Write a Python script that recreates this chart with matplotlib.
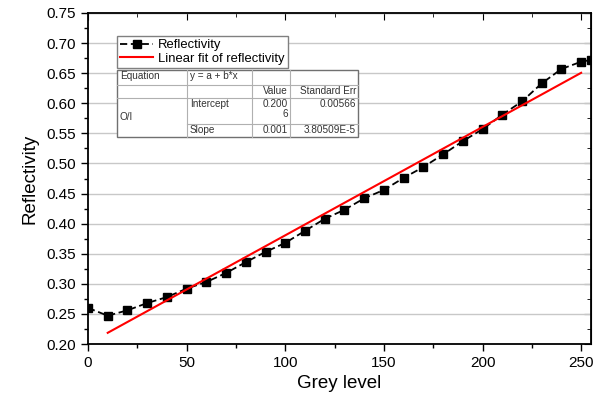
import matplotlib
matplotlib.use('Agg')
import matplotlib.pyplot as plt
from matplotlib.lines import Line2D
from matplotlib.patches import Rectangle
from matplotlib.ticker import MultipleLocator, FormatStrFormatter

plt.rcParams['font.family'] = ['Liberation Sans', 'DejaVu Sans']

# data
grey = [0, 10, 20, 30, 40, 50, 60, 70, 80, 90, 100, 110, 120, 130, 140,
        150, 160, 170, 180, 190, 200, 210, 220, 230, 240, 250, 255]
refl = [0.260, 0.247, 0.256, 0.268, 0.278, 0.292, 0.303, 0.318, 0.336, 0.353,
        0.368, 0.388, 0.408, 0.423, 0.442, 0.456, 0.476, 0.494, 0.515, 0.537,
        0.557, 0.581, 0.603, 0.633, 0.657, 0.669, 0.672]

fit_intercept = 0.2006
fit_slope = 0.0018
fit_x = [10, 250]

table_rows = [
    ['Equation', 'y = a + b*x', '', ''],
    ['', '', 'Value', 'Standard Err'],
    ['O/I', 'Intercept', '0.200\n6', '0.00566'],
    ['', 'Slope', '0.001', '3.80509E-5'],
]

W, H = 613, 401
fig = plt.figure(figsize=(W / 100, H / 100), dpi=100)
ax = fig.add_axes([88 / W, 1 - 344 / H, (591 - 88) / W, (344 - 13) / H])

ax.plot(grey, refl, color='black', ls=(0, (4, 2)), lw=1.3, marker='s',
        markersize=5.8, label='Reflectivity', zorder=3)
fit_y = [fit_intercept + fit_slope * x for x in fit_x]
ax.plot(fit_x, fit_y, color='red', lw=1.5, label='Linear fit of reflectivity',
        zorder=4)

ax.set_xlim(0, 255)
ax.set_ylim(0.20, 0.75)
ax.xaxis.set_major_locator(MultipleLocator(50))
ax.xaxis.set_minor_locator(MultipleLocator(25))
ax.yaxis.set_major_locator(MultipleLocator(0.05))
ax.yaxis.set_minor_locator(MultipleLocator(0.025))
ax.yaxis.set_major_formatter(FormatStrFormatter('%.2f'))
ax.grid(axis='y', color='#c8c8c8', lw=1)
ax.set_axisbelow(True)
ax.tick_params(which='both', direction='out', labelsize=11, width=1)
ax.tick_params(which='major', length=5)
ax.tick_params(which='minor', length=3)
for s in ax.spines.values():
    s.set_linewidth(1.3)

# mirrored ticks pointing inwards on top and right
top = ax.secondary_xaxis('top')
top.xaxis.set_major_locator(MultipleLocator(50))
top.xaxis.set_minor_locator(MultipleLocator(25))
top.tick_params(which='both', direction='in', labeltop=False)
top.tick_params(which='major', length=5)
top.tick_params(which='minor', length=3)
right = ax.secondary_yaxis('right')
right.yaxis.set_major_locator(MultipleLocator(0.05))
right.yaxis.set_minor_locator(MultipleLocator(0.025))
right.tick_params(which='both', direction='in', labelright=False)
right.tick_params(which='major', length=5)
right.tick_params(which='minor', length=3)

ax.set_xlabel('Grey level', fontsize=13.5, labelpad=4)
ax.set_ylabel('Reflectivity', fontsize=13.5, labelpad=6)

leg = ax.legend(loc='upper left', bbox_to_anchor=(117 / W, 1 - 36 / H),
                bbox_transform=fig.transFigure, borderaxespad=0, fontsize=9.4,
                numpoints=1, handlelength=2.5, handletextpad=0.4,
                labelspacing=0.1, borderpad=0.25, fancybox=False,
                framealpha=1, edgecolor='#808080')
leg.get_frame().set_linewidth(1)


def fx(x):
    return x / W


def fy(y):
    return 1 - y / H


# fit table drawn in figure pixels
cols = [117, 187, 252, 290, 358]
rows = [70, 85, 98, 124, 137]
fig.add_artist(Rectangle((fx(cols[0]), fy(rows[-1])), fx(cols[-1]) - fx(cols[0]),
                         fy(rows[0]) - fy(rows[-1]), transform=fig.transFigure,
                         facecolor='white', edgecolor='#707070', lw=1, zorder=5))
inner = '#b0b0b0'
for y in rows[1:3]:
    fig.add_artist(Line2D([fx(cols[0]), fx(cols[-1])], [fy(y), fy(y)],
                          color=inner, lw=0.8, zorder=6))
fig.add_artist(Line2D([fx(cols[1]), fx(cols[-1])], [fy(rows[3]), fy(rows[3])],
                      color=inner, lw=0.8, zorder=6))
for x in cols[1:-1]:
    fig.add_artist(Line2D([fx(x), fx(x)], [fy(rows[0]), fy(rows[-1])],
                          color=inner, lw=0.8, zorder=6))

for r, row in enumerate(table_rows):
    for c, txt in enumerate(row):
        if not txt:
            continue
        if c == 0 and r == 2:
            ty = (rows[2] + rows[4]) / 2
            va = 'center'
        else:
            ty = rows[r] + 1
            va = 'top'
        if c < 2:
            tx, ha = cols[c] + 3, 'left'
        else:
            tx, ha = cols[c + 1] - 2, 'right'
        fig.text(fx(tx), fy(ty), txt, ha=ha, va=va, fontsize=7.2,
                 color='#333333', zorder=7, linespacing=1.0,
                 multialignment='right')

fig.savefig('out.png', dpi=100)
